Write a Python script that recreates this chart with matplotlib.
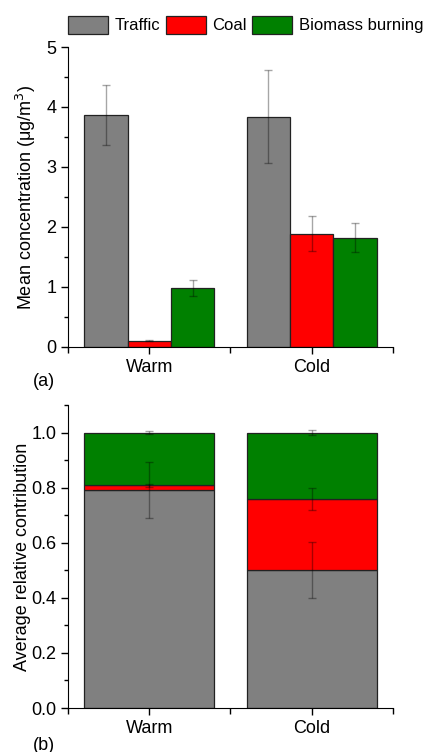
import numpy as np
import matplotlib
matplotlib.use("Agg")
from matplotlib import pyplot as plt
from matplotlib.patches import Patch
from matplotlib.ticker import MultipleLocator

plt.rcParams["font.family"] = ["Liberation Sans", "DejaVu Sans"]
plt.rcParams["font.size"] = 13

seasons = ["Warm", "Cold"]
sources = ["Traffic", "Coal", "Biomass burning"]
colours = ["#808080", "#ff0000", "#008000"]

# (a) mean concentration, ug/m3, per source for [Warm, Cold]
conc_mean = {"Traffic": [3.86, 3.84], "Coal": [0.105, 1.89], "Biomass burning": [0.98, 1.82]}
conc_err = {"Traffic": [0.50, 0.77], "Coal": [0.01, 0.29], "Biomass burning": [0.13, 0.24]}

# (b) relative contribution, stacked
rel_mean = {"Traffic": [0.792, 0.500], "Coal": [0.016, 0.258], "Biomass burning": [0.192, 0.242]}
rel_err = {"Traffic": [0.102, 0.102], "Coal": [0.004, 0.040], "Biomass burning": [0.004, 0.008]}

fig = plt.figure(figsize=(4.37, 7.52), dpi=100)
ax_a = fig.add_axes([0.1556, 0.5386, 0.7437, 0.3989])
ax_b = fig.add_axes([0.1556, 0.0585, 0.7437, 0.4029])

x = np.arange(1, len(seasons) + 1)
width = 0.8 / 3
err_kw = dict(ecolor=(0, 0, 0, 0.35), elinewidth=1.0, capsize=3, capthick=1.0)

for i, (src, col) in enumerate(zip(sources, colours)):
    ax_a.bar(x + (i - 1) * width, conc_mean[src], width, color=col,
             edgecolor="#222222", linewidth=0.9, yerr=conc_err[src], error_kw=err_kw)

bottom = np.zeros(len(seasons))
for src, col in zip(sources, colours):
    ax_b.bar(x, rel_mean[src], 0.8, bottom=bottom, color=col,
             edgecolor="#222222", linewidth=0.9)
    bottom = bottom + np.array(rel_mean[src])
    ax_b.errorbar(x, bottom, yerr=rel_err[src], fmt="none", **err_kw)

for ax in (ax_a, ax_b):
    ax.spines["top"].set_visible(False)
    ax.spines["right"].set_visible(False)
    ax.set_xlim(0.5, 2.5)
    ax.set_xticks(x)
    ax.set_xticklabels(seasons)
    ax.xaxis.set_minor_locator(MultipleLocator(0.5))
    ax.tick_params(which="major", direction="out", length=5, width=1, labelsize=13)
    ax.tick_params(which="minor", direction="out", length=3, width=1)
    ax.tick_params(axis="x", which="minor", length=4)

ax_a.set_ylim(0, 5)
ax_a.yaxis.set_major_locator(MultipleLocator(1))
ax_a.yaxis.set_minor_locator(MultipleLocator(0.5))
ax_a.set_ylabel("Mean concentration (μg/m$^3$)", fontsize=13, labelpad=6)

ax_b.set_ylim(0, 1.1)
ax_b.yaxis.set_minor_locator(MultipleLocator(0.1))
ax_b.set_yticks(np.arange(0, 1.01, 0.2))
ax_b.set_yticklabels([f"{v:.1f}" for v in np.arange(0, 1.01, 0.2)])
ax_b.set_ylabel("Average relative contribution", fontsize=13, labelpad=0)

fig.text(0.075, 1 - 382 / 752, "(a)", va="center", ha="left", fontsize=13)
fig.text(0.075, 1 - 745 / 752, "(b)", va="center", ha="left", fontsize=13)

handles = [Patch(facecolor=c, edgecolor="#222222", linewidth=0.9) for c in colours]
fig.legend(handles, sources, loc="upper left", bbox_to_anchor=(0.1556, 1 - 16 / 752), ncol=3,
           frameon=False, handlelength=2.4, handleheight=1.25, handletextpad=0.42,
           columnspacing=0.3, borderaxespad=0, borderpad=0, fontsize=12)

fig.savefig("out.png", dpi=100)
